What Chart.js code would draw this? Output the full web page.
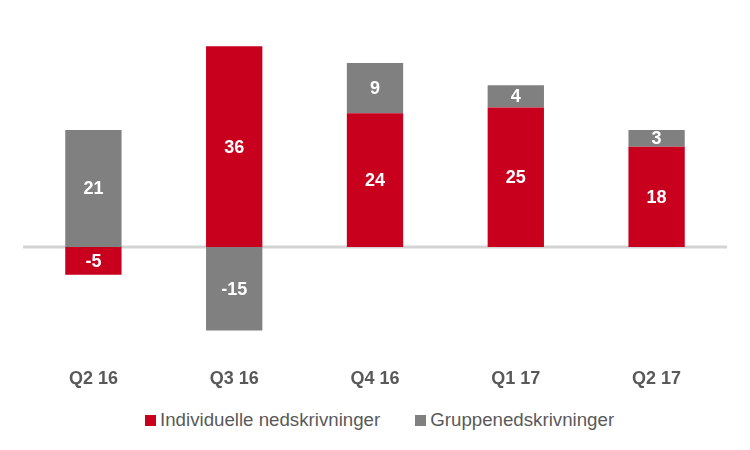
<!DOCTYPE html>
<html>
<head>
<meta charset="utf-8">
<script src="https://cdn.jsdelivr.net/npm/chart.js@4"></script>
<style>
  html, body { margin: 0; padding: 0; background: #fff; }
  #wrap { position: relative; width: 750px; height: 450px; }
  #plot { position: relative; width: 750px; height: 402px; }
  #legende {
    position: absolute; left: 145px; top: 408px;
    display: flex; gap: 35px; white-space: nowrap;
    font: 18.7px "Liberation Sans", Arial, sans-serif; color: #595959;
    line-height: 24px;
  }
  #legende span.boks {
    display: inline-block; width: 11px; height: 11px; margin-right: 4px;
    vertical-align: 0px;
  }
</style>
</head>
<body>
<div id="wrap">
  <div id="plot"><canvas id="chart"></canvas></div>
  <div id="legende"></div>
</div>
<script>
const kvartaler = ["Q2 16", "Q3 16", "Q4 16", "Q1 17", "Q2 17"];
const individuelle = [-5, 36, 24, 25, 18];
const gruppe = [21, -15, 9, 4, 3];

const rod = "#C8001E";
const gra = "#808080";

// Verdier inne i søylene + nullinje
const etiketter = {
  id: "etiketter",
  beforeDatasetsDraw(chart) {
    const { ctx, chartArea, scales } = chart;
    const y0 = scales.y.getPixelForValue(0);
    ctx.save();
    ctx.strokeStyle = "#D4D4D4";
    ctx.lineWidth = 3;
    ctx.beginPath();
    ctx.moveTo(chartArea.left, y0);
    ctx.lineTo(chartArea.right, y0);
    ctx.stroke();
    ctx.restore();
  },
  afterDatasetsDraw(chart) {
    const { ctx } = chart;
    ctx.save();
    ctx.fillStyle = "#fff";
    ctx.font = "bold 18px 'Liberation Sans', Arial, sans-serif";
    ctx.textAlign = "center";
    ctx.textBaseline = "middle";
    chart.data.datasets.forEach((ds, i) => {
      chart.getDatasetMeta(i).data.forEach((bar, j) => {
        const midt = (bar.y + bar.base) / 2;
        ctx.fillText(String(ds.data[j]), bar.x, midt + 1);
      });
    });
    ctx.restore();
  }
};

const chart = new Chart(document.getElementById("chart"), {
  type: "bar",
  data: {
    labels: kvartaler,
    datasets: [
      { label: "Individuelle nedskrivninger", data: individuelle, backgroundColor: rod },
      { label: "Gruppenedskrivninger", data: gruppe, backgroundColor: gra }
    ]
  },
  options: {
    responsive: true,
    maintainAspectRatio: false,
    animation: false,
    categoryPercentage: 1,
    barPercentage: 0.4,
    layout: { padding: { left: 23, right: 23, top: 24, bottom: 0 } },
    scales: {
      x: {
        stacked: true,
        grid: { display: false },
        border: { display: false },
        ticks: {
          color: "#595959",
          padding: 12,
          font: { family: "'Liberation Sans', Arial, sans-serif", size: 18, weight: "bold" }
        }
      },
      y: {
        stacked: true,
        display: false,
        min: -18.2,
        max: 40
      }
    },
    plugins: {
      tooltip: { enabled: false },
      legend: { display: false }
    }
  },
  plugins: [etiketter]
});

// Egen legende under grafen
const legende = document.getElementById("legende");
chart.data.datasets.forEach(ds => {
  const el = document.createElement("div");
  el.innerHTML = `<span class="boks" style="background:${ds.backgroundColor}"></span>${ds.label}`;
  legende.appendChild(el);
});
</script>
</body>
</html>
